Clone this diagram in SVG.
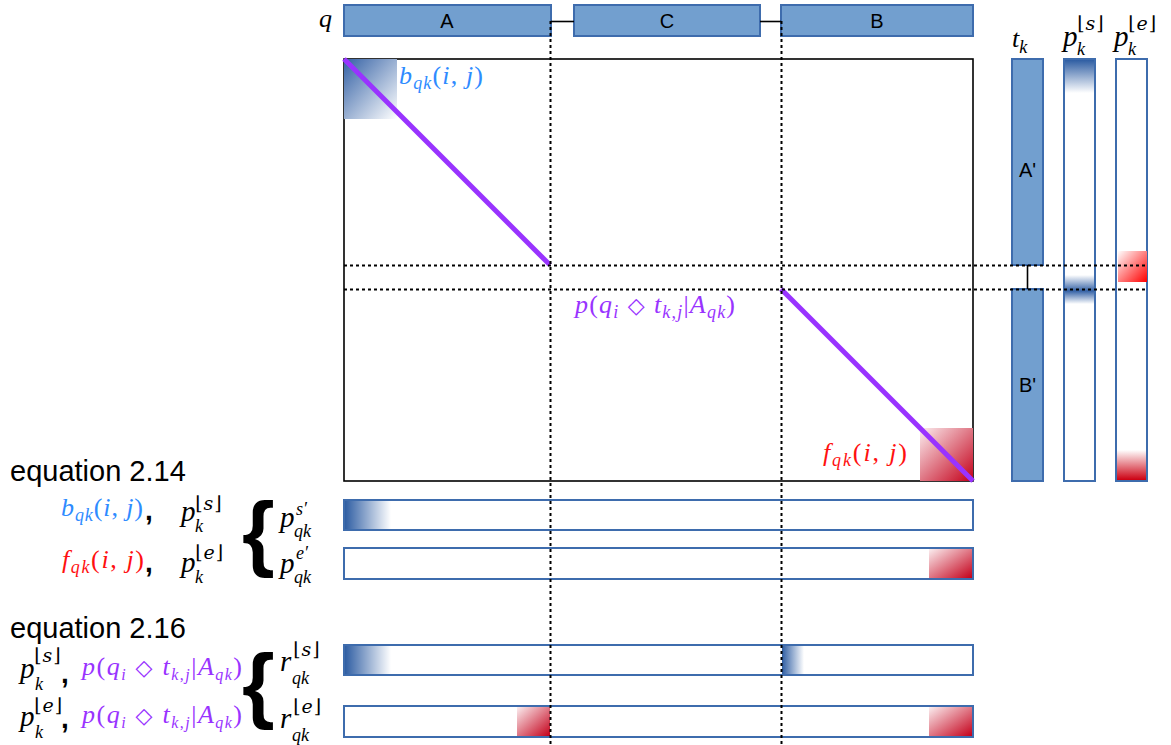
<svg xmlns="http://www.w3.org/2000/svg" width="1171" height="745" viewBox="0 0 1171 745">
  <style>
    .bar { fill: #729fcf; stroke: #3e6cad; stroke-width: 2; }
    .hb { fill: #ffffff; stroke: #3e6cad; stroke-width: 2; }
    .link { stroke: #000; stroke-width: 1.6; fill: none; }
    .dash { stroke: #000; stroke-width: 2; stroke-dasharray: 3 3; fill: none; }
    .diag { stroke: #9933ff; stroke-width: 5; }
    .lbl { font-family: "Liberation Sans", Arial, sans-serif; font-size: 20px; fill: #000; }
    .eq { font-family: "Liberation Sans", Arial, sans-serif; font-size: 29px; fill: #000; }
    .m { font-family: "Liberation Serif", "DejaVu Serif", serif; font-size: 26px; fill: #000; }
    .i { font-style: italic; }
    .s { font-size: 18px; }
    .fl { font-family: "DejaVu Serif", serif; font-size: 19px; }
    .dm { font-family: "DejaVu Sans", sans-serif; font-size: 22px; }
    .cm { font-family: "Liberation Sans", Arial, sans-serif; font-weight: bold; font-size: 28px; fill: #000; }
    .br { font-family: "Liberation Sans", Arial, sans-serif; font-weight: bold; font-size: 84px; fill: #000; }
    .blue { fill: #2e8bff; }
    .red { fill: #ff1010; }
    .pur { fill: #9933ff; }
  </style>
  <defs>
    <linearGradient id="gBlueSq" x1="0" y1="0" x2="1" y2="1">
      <stop offset="0" stop-color="#3461a5"/>
      <stop offset="1" stop-color="#ffffff"/>
    </linearGradient>
    <linearGradient id="gRedSq" x1="0" y1="0" x2="1" y2="1">
      <stop offset="0" stop-color="#fbeef0"/>
      <stop offset="1" stop-color="#c4001a"/>
    </linearGradient>
    <linearGradient id="gRedHot" x1="0" y1="0" x2="1" y2="1">
      <stop offset="0" stop-color="#ffffff"/>
      <stop offset="1" stop-color="#ff0000"/>
    </linearGradient>
    <linearGradient id="gBlueDown" x1="0" y1="0" x2="0" y2="1">
      <stop offset="0" stop-color="#2f5ea3"/>
      <stop offset="1" stop-color="#ffffff"/>
    </linearGradient>
    <linearGradient id="gBlueBand" x1="0" y1="0" x2="0" y2="1">
      <stop offset="0" stop-color="#ffffff"/>
      <stop offset="0.55" stop-color="#3562a6"/>
      <stop offset="1" stop-color="#ffffff"/>
    </linearGradient>
    <linearGradient id="gRedUp" x1="0" y1="0" x2="0" y2="1">
      <stop offset="0" stop-color="#ffffff"/>
      <stop offset="1" stop-color="#cc0011"/>
    </linearGradient>
    <linearGradient id="gBlueRight" x1="0" y1="0" x2="1" y2="0">
      <stop offset="0" stop-color="#2f5ea3"/>
      <stop offset="1" stop-color="#ffffff"/>
    </linearGradient>
  </defs>

  <!-- query segments -->
  <g id="q-label">
    <text class="m i" x="319" y="27" font-size="28">q</text>
  </g>
  <g id="seg-A">
    <rect class="bar" x="344" y="5" width="207" height="31"/>
    <text class="lbl" x="447" y="28" text-anchor="middle">A</text>
  </g>
  <g id="seg-C">
    <rect class="bar" x="574" y="5" width="186" height="31"/>
    <text class="lbl" x="667" y="28" text-anchor="middle">C</text>
  </g>
  <g id="seg-B">
    <rect class="bar" x="781" y="5" width="192" height="31"/>
    <text class="lbl" x="877" y="28" text-anchor="middle">B</text>
  </g>

  <!-- alignment matrix -->
  <g id="matrix">
    <rect x="344" y="59" width="629" height="422" fill="#fff" stroke="#000" stroke-width="1.6"/>
    <rect x="344" y="59" width="53" height="60" fill="url(#gBlueSq)"/>
    <rect x="920" y="428" width="53" height="53" fill="url(#gRedSq)"/>
    <line class="diag" x1="344" y1="59" x2="550" y2="265"/>
    <line class="diag" x1="781" y1="289" x2="973" y2="481"/>
    <text class="m blue" x="399" y="84" textLength="84" lengthAdjust="spacing"><tspan class="i">b</tspan><tspan class="s i" dy="5">qk</tspan><tspan dy="-5">(</tspan><tspan class="i">i</tspan>, <tspan class="i">j</tspan>)</text>
    <text class="m red" x="823" y="461" textLength="84" lengthAdjust="spacing"><tspan class="i">f</tspan><tspan class="s i" dy="5">qk</tspan><tspan dy="-5">(</tspan><tspan class="i">i</tspan>, <tspan class="i">j</tspan>)</text>
    <text class="m pur" x="575" y="313" textLength="160" lengthAdjust="spacing"><tspan class="i">p</tspan>(<tspan class="i">q</tspan><tspan class="s i" dy="5">i</tspan><tspan dy="-5" class="dm"> ◇ </tspan><tspan class="i">t</tspan><tspan class="s" dy="5"><tspan class="i">k</tspan>,<tspan class="i">j</tspan></tspan><tspan dy="-5">|</tspan><tspan class="i">A</tspan><tspan class="s i" dy="5">qk</tspan><tspan dy="-5">)</tspan></text>
  </g>

  <!-- target segments -->
  <g id="tk">
    <text class="m i" x="1012" y="47" font-size="29">t<tspan class="s" dy="6">k</tspan></text>
    <rect class="bar" x="1012" y="59" width="31" height="206"/>
    <rect class="bar" x="1012" y="289" width="31" height="192"/>
    <line class="link" x1="1027.5" y1="265" x2="1027.5" y2="289"/>
    <text class="lbl" x="1027.5" y="177" text-anchor="middle">A'</text>
    <text class="lbl" x="1027.5" y="392" text-anchor="middle">B'</text>
  </g>
  <g id="pk-s">
    <text class="m"><tspan class="i" x="1063" y="46" font-size="29">p</tspan><tspan class="fl" x="1077" y="30" letter-spacing="1">⌊<tspan class="i">s</tspan>⌋</tspan><tspan class="s i" x="1077" y="55">k</tspan></text>
    <rect class="hb" x="1064" y="59" width="31" height="422"/>
    <rect x="1065" y="60" width="29" height="33" fill="url(#gBlueDown)"/>
    <rect x="1065" y="275" width="29" height="29" fill="url(#gBlueBand)"/>
  </g>
  <g id="pk-e">
    <text class="m"><tspan class="i" x="1114" y="46" font-size="29">p</tspan><tspan class="fl" x="1128" y="30" letter-spacing="1">⌊<tspan class="i">e</tspan>⌋</tspan><tspan class="s i" x="1128" y="55">k</tspan></text>
    <rect class="hb" x="1116" y="59" width="31" height="422"/>
    <rect x="1118" y="251" width="29" height="31" fill="url(#gRedHot)"/>
    <rect x="1117" y="450" width="29" height="30" fill="url(#gRedUp)"/>
  </g>

  <!-- equation 2.14 -->
  <g id="eq214">
    <text class="eq" x="10" y="481">equation 2.14</text>
    <text class="m blue" x="61" y="516" textLength="82" lengthAdjust="spacing"><tspan class="i">b</tspan><tspan class="s i" dy="5">qk</tspan><tspan dy="-5">(</tspan><tspan class="i">i</tspan>, <tspan class="i">j</tspan>)</text>
    <text class="cm" x="145" y="520">,</text>
    <text class="m"><tspan class="i" x="181" y="521" font-size="29">p</tspan><tspan class="fl" x="195" y="510" letter-spacing="1">⌊<tspan class="i">s</tspan>⌋</tspan><tspan class="s i" x="195" y="532">k</tspan></text>
    <text class="m red" x="62" y="568" textLength="82" lengthAdjust="spacing"><tspan class="i">f</tspan><tspan class="s i" dy="5">qk</tspan><tspan dy="-5">(</tspan><tspan class="i">i</tspan>, <tspan class="i">j</tspan>)</text>
    <text class="cm" x="145" y="572">,</text>
    <text class="m"><tspan class="i" x="181" y="572" font-size="29">p</tspan><tspan class="fl" x="195" y="559" letter-spacing="1">⌊<tspan class="i">e</tspan>⌋</tspan><tspan class="s i" x="195" y="583">k</tspan></text>
    <text class="br" x="242" y="561">{</text>
    <text class="m"><tspan class="i" x="280" y="527" font-size="29">p</tspan><tspan class="s i" x="296" y="515">s′</tspan><tspan class="s i" x="294" y="537">qk</tspan></text>
    <text class="m"><tspan class="i" x="280" y="573" font-size="29">p</tspan><tspan class="s i" x="296" y="559">e′</tspan><tspan class="s i" x="294" y="583">qk</tspan></text>
  </g>

  <!-- equation 2.16 -->
  <g id="eq216">
    <text class="eq" x="10" y="638">equation 2.16</text>
    <text class="m"><tspan class="i" x="20" y="678" font-size="29">p</tspan><tspan class="fl" x="34" y="662" letter-spacing="1">⌊<tspan class="i">s</tspan>⌋</tspan><tspan class="s i" x="35" y="690">k</tspan></text>
    <text class="cm" x="61" y="683">,</text>
    <text class="m pur" x="82" y="675" font-size="24" textLength="160" lengthAdjust="spacing"><tspan class="i">p</tspan>(<tspan class="i">q</tspan><tspan class="i" font-size="16" dy="5">i</tspan><tspan dy="-5" class="dm" font-size="19"> ◇ </tspan><tspan class="i">t</tspan><tspan font-size="16" dy="5"><tspan class="i">k</tspan>,<tspan class="i">j</tspan></tspan><tspan dy="-5">|</tspan><tspan class="i">A</tspan><tspan class="i" font-size="16" dy="5">qk</tspan><tspan dy="-5">)</tspan></text>
    <text class="m"><tspan class="i" x="20" y="726" font-size="29">p</tspan><tspan class="fl" x="34" y="712" letter-spacing="1">⌊<tspan class="i">e</tspan>⌋</tspan><tspan class="s i" x="35" y="738">k</tspan></text>
    <text class="cm" x="61" y="728">,</text>
    <text class="m pur" x="82" y="723" font-size="24" textLength="160" lengthAdjust="spacing"><tspan class="i">p</tspan>(<tspan class="i">q</tspan><tspan class="i" font-size="16" dy="5">i</tspan><tspan dy="-5" class="dm" font-size="19"> ◇ </tspan><tspan class="i">t</tspan><tspan font-size="16" dy="5"><tspan class="i">k</tspan>,<tspan class="i">j</tspan></tspan><tspan dy="-5">|</tspan><tspan class="i">A</tspan><tspan class="i" font-size="16" dy="5">qk</tspan><tspan dy="-5">)</tspan></text>
    <text class="br" x="242" y="713">{</text>
    <text class="m"><tspan class="i" x="280" y="671" font-size="29">r</tspan><tspan class="fl" x="293" y="656" letter-spacing="1">⌊<tspan class="i">s</tspan>⌋</tspan><tspan class="s i" x="292" y="684">qk</tspan></text>
    <text class="m"><tspan class="i" x="280" y="728" font-size="29">r</tspan><tspan class="fl" x="293" y="713" letter-spacing="1">⌊<tspan class="i">e</tspan>⌋</tspan><tspan class="s i" x="292" y="741">qk</tspan></text>
  </g>

  <!-- score rows -->
  <g id="row-ps">
    <rect class="hb" x="344" y="500" width="629" height="30"/>
    <rect x="345" y="501" width="46" height="28" fill="url(#gBlueRight)"/>
  </g>
  <g id="row-pe">
    <rect class="hb" x="344" y="548" width="629" height="31"/>
    <rect x="929" y="549" width="43" height="29" fill="url(#gRedSq)"/>
  </g>
  <g id="row-rs">
    <rect class="hb" x="344" y="645" width="629" height="30"/>
    <rect x="345" y="646" width="46" height="28" fill="url(#gBlueRight)"/>
    <rect x="782" y="646" width="22" height="28" fill="url(#gBlueRight)"/>
  </g>
  <g id="row-re">
    <rect class="hb" x="344" y="706" width="629" height="31"/>
    <rect x="517" y="707" width="33" height="29" fill="url(#gRedSq)"/>
    <rect x="929" y="707" width="43" height="29" fill="url(#gRedSq)"/>
  </g>

  <!-- connectors and guide lines -->
  <g id="connectors">
    <line class="link" x1="551" y1="21.5" x2="574" y2="21.5"/>
    <line class="link" x1="760" y1="21.5" x2="781" y2="21.5"/>
    <line class="dash" x1="550.5" y1="21" x2="550.5" y2="745"/>
    <line class="dash" x1="781.5" y1="21" x2="781.5" y2="745"/>
    <line class="dash" x1="344" y1="265.5" x2="1148" y2="265.5"/>
    <line class="dash" x1="344" y1="289.5" x2="1148" y2="289.5"/>
  </g>
</svg>
